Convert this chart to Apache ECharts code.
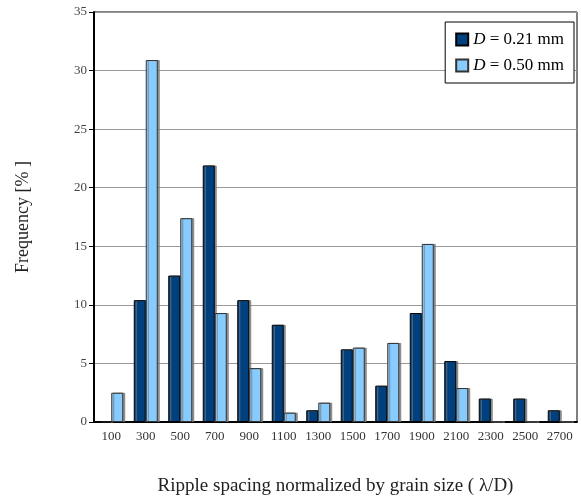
<!DOCTYPE html>
<html>
<head>
<meta charset="utf-8">
<script src="https://cdn.jsdelivr.net/npm/echarts@6/dist/echarts.min.js"></script>
<style>
  html, body { margin: 0; padding: 0; background: #fff; }
  #chart { width: 581px; height: 497px; }
</style>
</head>
<body>
<div id="chart"></div>
<script>
const categories = ['100', '300', '500', '700', '900', '1100', '1300', '1500', '1700', '1900', '2100', '2300', '2500', '2700']
const fineGrain = [0, 10.4, 12.5, 21.9, 10.4, 8.3, 1.0, 6.2, 3.1, 9.3, 5.2, 2.0, 2.0, 1.0]
const coarseGrain = [2.5, 30.9, 17.4, 9.3, 4.6, 0.8, 1.65, 6.35, 6.75, 15.2, 2.9, 0, 0, 0]
const seriesNames = ['D = 0.21 mm', 'D = 0.50 mm']

const SERIF = '"Liberation Serif", "DejaVu Serif", serif'

const chart = echarts.init(document.getElementById('chart'), null, { renderer: 'canvas' })

chart.setOption({
  animation: false,
  backgroundColor: '#fff',
  textStyle: { fontFamily: SERIF },
  grid: {
    left: 94, right: 4, top: 12, bottom: 75,
    containLabel: false,
    outerBoundsMode: 'none',
    show: true, borderColor: '#000', borderWidth: 1
  },
  legend: {
    orient: 'vertical',
    right: 7,
    top: 22,
    padding: [9, 10, 9, 10],
    icon: 'rect',
    itemWidth: 12,
    itemHeight: 12,
    itemGap: 9,
    backgroundColor: '#fff',
    borderColor: '#000',
    borderWidth: 1,
    data: seriesNames,
    formatter: name => '{i|D}{n|' + name.slice(1) + '}',
    textStyle: {
      rich: {
        i: { fontFamily: SERIF, fontStyle: 'italic', fontSize: 17, color: '#000' },
        n: { fontFamily: SERIF, fontSize: 17, color: '#000' }
      }
    }
  },
  xAxis: {
    type: 'category',
    data: categories,
    name: 'Ripple spacing normalized by grain size ( λ/D)',
    nameLocation: 'middle',
    nameGap: 55,
    nameTextStyle: { fontFamily: SERIF, fontSize: 19, color: '#222' },
    axisLine: { lineStyle: { color: '#000', width: 2 } },
    axisTick: { alignWithLabel: true, length: 4, lineStyle: { color: '#000' } },
    axisLabel: { fontFamily: SERIF, fontSize: 13, color: '#333', margin: 8 }
  },
  yAxis: {
    type: 'value',
    min: 0,
    max: 35,
    interval: 5,
    name: 'Frequency [% ]',
    nameLocation: 'middle',
    nameGap: 62,
    nameRotate: 90,
    nameTextStyle: { fontFamily: SERIF, fontSize: 18, color: '#222' },
    axisLine: { show: true, lineStyle: { color: '#000', width: 2 } },
    axisTick: { show: true, length: 5, lineStyle: { color: '#000' } },
    axisLabel: { fontFamily: SERIF, fontSize: 13, color: '#444', margin: 7 },
    splitLine: { lineStyle: { color: '#999', width: 1 } }
  },
  series: [
    {
      name: seriesNames[0],
      type: 'bar',
      data: fineGrain,
      barWidth: 12,
      barGap: '0%',
      itemStyle: {
        color: '#00407f',
        borderColor: '#000',
        borderWidth: 1,
        shadowColor: 'rgba(120,120,120,0.8)',
        shadowOffsetX: 2,
        shadowOffsetY: 0
      }
    },
    {
      name: seriesNames[1],
      type: 'bar',
      data: coarseGrain,
      barWidth: 12,
      itemStyle: {
        color: '#88ccff',
        borderColor: '#333',
        borderWidth: 1,
        shadowColor: 'rgba(120,120,120,0.8)',
        shadowOffsetX: 2,
        shadowOffsetY: 0
      }
    }
  ]
})
</script>
</body>
</html>
